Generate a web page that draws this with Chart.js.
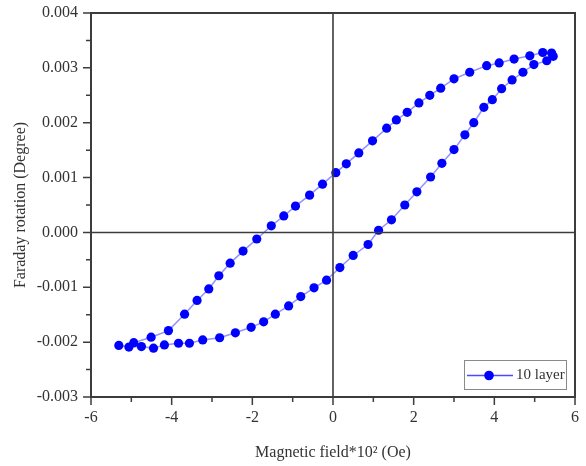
<!DOCTYPE html>
<html>
<head>
<meta charset="utf-8">
<script src="https://cdn.jsdelivr.net/npm/chart.js@4/dist/chart.umd.min.js"></script>
<style>
  html, body { margin: 0; padding: 0; background: #ffffff; }
  #wrap { width: 586px; height: 466px; position: relative; }
</style>
</head>
<body>
<div id="wrap"><canvas id="c" width="586" height="466"></canvas></div>
<script>
// Ascending branch (field increasing) – Magnetic field*10^2 (Oe)
const ascendingField = [-5.31, -5.06, -4.75, -4.45, -4.18, -3.83, -3.56, -3.23, -2.81, -2.42, -2.03, -1.72, -1.43, -1.10, -0.80, -0.47, -0.16, 0.17, 0.50, 0.87, 1.13, 1.45, 1.78, 2.08, 2.42, 2.70, 3.00, 3.27, 3.49, 3.74, 3.95, 4.18, 4.44, 4.71, 4.98, 5.30, 5.46, 5.42];
const ascendingRotation = [-0.00206, -0.00209, -0.00208, -0.00211, -0.00205, -0.00202, -0.00202, -0.00196, -0.00192, -0.00183, -0.00173, -0.00163, -0.00149, -0.00134, -0.00117, -0.00101, -0.00087, -0.00064, -0.00042, -0.00022, 0.00004, 0.00023, 0.00050, 0.00074, 0.00101, 0.00126, 0.00151, 0.00178, 0.00200, 0.00228, 0.00242, 0.00262, 0.00278, 0.00292, 0.00306, 0.00313, 0.00321, 0.00327];
// Descending branch (field decreasing)
const descendingField = [5.20, 4.88, 4.49, 4.12, 3.81, 3.39, 3.00, 2.67, 2.40, 2.13, 1.84, 1.57, 1.33, 0.98, 0.64, 0.33, 0.07, -0.26, -0.58, -0.93, -1.22, -1.53, -1.89, -2.23, -2.55, -2.83, -3.08, -3.37, -3.68, -4.08, -4.51, -4.94];
const descendingRotation = [0.00328, 0.00322, 0.00316, 0.00309, 0.00304, 0.00292, 0.00280, 0.00263, 0.00250, 0.00236, 0.00219, 0.00205, 0.00190, 0.00167, 0.00145, 0.00125, 0.00109, 0.00088, 0.00068, 0.00048, 0.00030, 0.00012, -0.00012, -0.00034, -0.00056, -0.00079, -0.00103, -0.00124, -0.00149, -0.00179, -0.00191, -0.00201];

const seriesLabel = '10 layer';
const xAxisTitle = 'Magnetic field*10\u00B2 (Oe)';
const yAxisTitle = 'Faraday rotation (Degree)';
const xTickMin = -6, xTickMax = 6, xStep = 1;
const yTickMin = -0.003, yTickMax = 0.004, yStep = 0.0005;

const loopPoints = [];
ascendingField.forEach((x, i) => loopPoints.push({ x: x, y: ascendingRotation[i] }));
descendingField.forEach((x, i) => loopPoints.push({ x: x, y: descendingRotation[i] }));

const AXIS = '#3c3c3c';
const TEXT = '#333333';
const FONT = 'Liberation Serif, Times New Roman, serif';

function isMajorY(v) { return Math.abs(v * 1000 - Math.round(v * 1000)) < 1e-6; }
function isMajorX(v) { return Math.abs(v / 2 - Math.round(v / 2)) < 1e-9; }

const framePlugin = {
  id: 'frame',
  afterDraw(chart) {
    const ctx = chart.ctx;
    const ca = chart.chartArea;
    const xs = chart.scales.x, ys = chart.scales.y;
    ctx.save();
    // zero lines
    ctx.strokeStyle = AXIS;
    ctx.lineWidth = 1.6;
    const x0 = xs.getPixelForValue(0), y0 = ys.getPixelForValue(0);
    ctx.beginPath();
    ctx.moveTo(x0, ca.top); ctx.lineTo(x0, ca.bottom);
    ctx.moveTo(ca.left, y0); ctx.lineTo(ca.right, y0);
    ctx.stroke();
    // frame
    ctx.lineWidth = 2;
    ctx.strokeRect(ca.left, ca.top, ca.right - ca.left, ca.bottom - ca.top);
    // ticks
    ctx.lineWidth = 1.5;
    ctx.beginPath();
    xs.ticks.forEach(t => {
      const px = xs.getPixelForValue(t.value);
      const len = isMajorX(t.value) ? 8 : 5;
      ctx.moveTo(px, ca.bottom); ctx.lineTo(px, ca.bottom + len);
    });
    ys.ticks.forEach(t => {
      const py = ys.getPixelForValue(t.value);
      const len = isMajorY(t.value) ? 8 : 5;
      ctx.moveTo(ca.left, py); ctx.lineTo(ca.left - len, py);
    });
    ctx.stroke();
    // legend box
    const bw = 102, bh = 29;
    const bx = ca.right - 9 - bw, by = ca.bottom - 8 - bh;
    ctx.fillStyle = '#ffffff';
    ctx.fillRect(bx, by, bw, bh);
    ctx.strokeStyle = '#8a8a8a';
    ctx.lineWidth = 1;
    ctx.strokeRect(bx + 0.5, by + 0.5, bw, bh);
    const cy = by + bh / 2 + 1;
    ctx.strokeStyle = '#4a4aff';
    ctx.lineWidth = 1.5;
    ctx.beginPath();
    ctx.moveTo(bx + 3, cy); ctx.lineTo(bx + 49, cy);
    ctx.stroke();
    ctx.fillStyle = '#0000ff';
    ctx.beginPath();
    ctx.arc(bx + 25, cy, 4.8, 0, Math.PI * 2);
    ctx.fill();
    ctx.fillStyle = TEXT;
    ctx.font = '15px ' + FONT;
    ctx.textBaseline = 'middle';
    ctx.textAlign = 'left';
    ctx.fillText(chart.data.datasets[0].label, bx + 52, cy);
    ctx.restore();
  }
};

new Chart(document.getElementById('c'), {
  type: 'scatter',
  data: {
    datasets: [{
      label: seriesLabel,
      data: loopPoints,
      showLine: true,
      tension: 0,
      borderColor: 'rgba(110,110,255,0.75)',
      borderWidth: 1.5,
      pointRadius: 4.6,
      pointHoverRadius: 4.6,
      pointBackgroundColor: '#0000ff',
      pointBorderColor: '#0000ff',
      pointBorderWidth: 0
    }]
  },
  options: {
    responsive: false,
    animation: false,
    events: [],
    layout: { padding: { top: 13, right: 11, left: 0, bottom: 0 } },
    plugins: { legend: { display: false }, tooltip: { enabled: false } },
    scales: {
      x: {
        type: 'linear',
        min: xTickMin, max: xTickMax,
        afterFit(s) { s.height = 69; s.paddingLeft = 0; s.paddingRight = 0; },
        border: { display: false },
        grid: { display: false, drawTicks: false },
        ticks: {
          stepSize: xStep, autoSkip: false, maxRotation: 0, padding: 11,
          color: TEXT, font: { family: FONT, size: 16 },
          callback: v => isMajorX(v) ? String(Math.round(v)) : ''
        },
        title: { display: true, text: xAxisTitle, color: TEXT, font: { family: FONT, size: 16 }, padding: { top: 0, bottom: 4 } }
      },
      y: {
        type: 'linear',
        min: yTickMin, max: yTickMax,
        afterFit(s) { s.width = 91; s.paddingTop = 0; s.paddingBottom = 0; },
        border: { display: false },
        grid: { display: false, drawTicks: false },
        ticks: {
          stepSize: yStep, autoSkip: false, padding: 13,
          color: TEXT, font: { family: FONT, size: 16 },
          callback: v => isMajorY(v) ? (Math.abs(v) < 1e-9 ? '0.000' : v.toFixed(3)) : ''
        },
        title: { display: true, text: yAxisTitle, color: TEXT, font: { family: FONT, size: 16 }, padding: { top: 11, bottom: 0 } }
      }
    }
  },
  plugins: [framePlugin]
});
</script>
</body>
</html>
